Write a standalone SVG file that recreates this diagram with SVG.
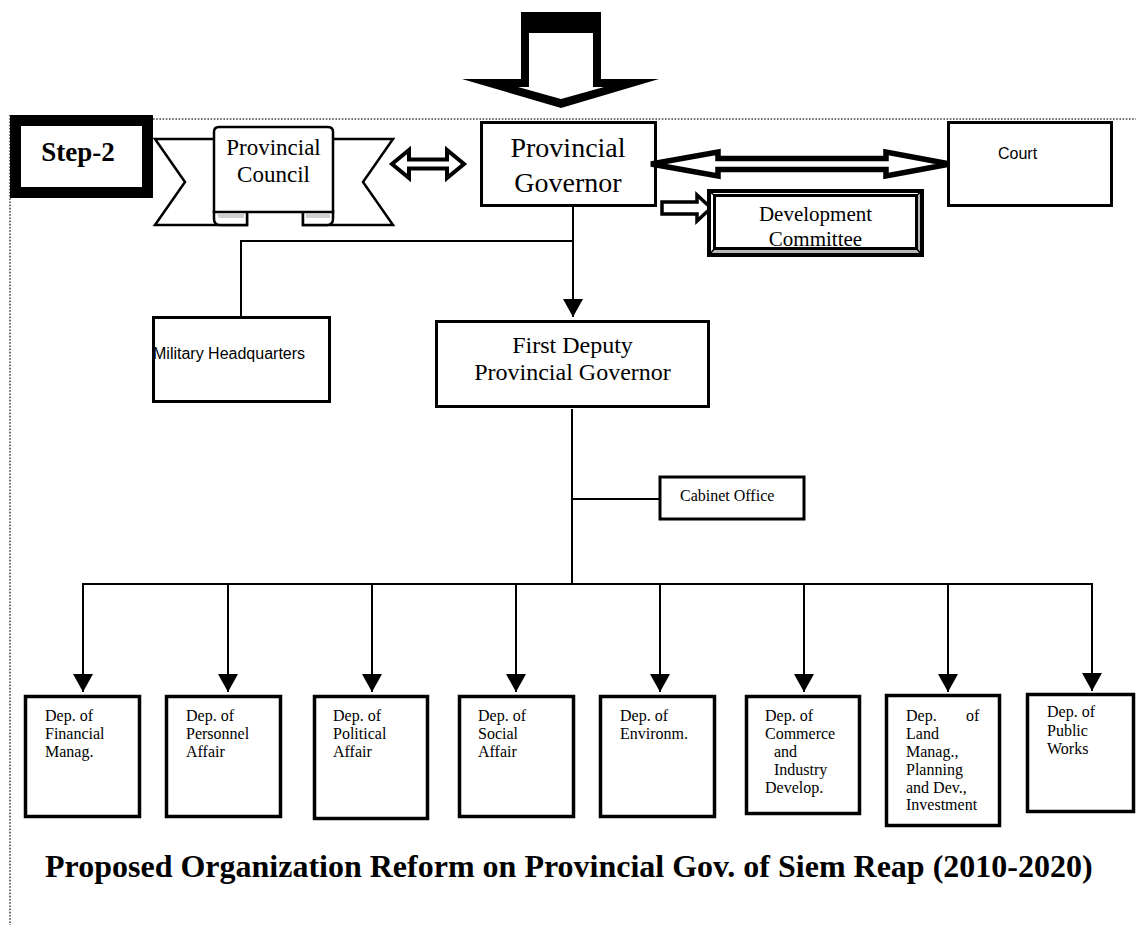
<svg xmlns="http://www.w3.org/2000/svg" width="1136" height="925" viewBox="0 0 1136 925">
<style>
.box{fill:#fff;stroke:#000;stroke-width:3}
.dep{fill:#fff;stroke:#000;stroke-width:3.5}
.ln{fill:none;stroke:#000;stroke-width:2}
.dot{fill:none;stroke:#444;stroke-width:1.6;stroke-dasharray:1.6 1.6}
.blk{fill:#fff;stroke:#000;stroke-linejoin:miter}
.tr{font-family:"Liberation Serif","Times New Roman",serif;fill:#000}
.ts{font-family:"Liberation Sans",Arial,sans-serif;fill:#000}
.d{font-family:"Liberation Serif","Times New Roman",serif;font-size:16px;fill:#000}
</style>
<defs>
<marker id="ah" markerUnits="userSpaceOnUse" markerWidth="18" markerHeight="20" refX="18" refY="10" orient="auto" viewBox="0 0 18 20">
<path d="M0,0 L18,10 L0,20 Z" fill="#000"/>
</marker>
</defs>
<rect width="1136" height="925" fill="#fff"/>

<!-- dotted frame -->
<g id="frame">
<line class="dot" x1="153" y1="119" x2="1136" y2="119"/>
<line class="dot" x1="10" y1="115" x2="10" y2="925"/>
</g>

<!-- top block arrow -->
<g id="top-arrow">
<polygon points="521,12 601,12 601,79 659,79 561,108 462,79 521,79" fill="#000"/>
<polygon points="529,33 593,33 593,87 604,87 561,99 518,87 529,87" fill="#fff"/>
</g>

<!-- connectors -->
<g id="connectors">
<line class="ln" x1="573" y1="207" x2="573" y2="317" marker-end="url(#ah)"/>
<line class="ln" x1="240" y1="241" x2="574" y2="241"/>
<line class="ln" x1="241" y1="241" x2="241" y2="316"/>
<line class="ln" x1="572" y1="409" x2="572" y2="585"/>
<line class="ln" x1="572" y1="499" x2="659" y2="499"/>
<line class="ln" x1="83" y1="584" x2="1093" y2="584"/>
<line class="ln" x1="83" y1="583" x2="83" y2="692" marker-end="url(#ah)"/>
<line class="ln" x1="228" y1="584" x2="228" y2="692" marker-end="url(#ah)"/>
<line class="ln" x1="372" y1="584" x2="372" y2="692" marker-end="url(#ah)"/>
<line class="ln" x1="516" y1="584" x2="516" y2="692" marker-end="url(#ah)"/>
<line class="ln" x1="660" y1="584" x2="660" y2="692" marker-end="url(#ah)"/>
<line class="ln" x1="804" y1="584" x2="804" y2="692" marker-end="url(#ah)"/>
<line class="ln" x1="948" y1="584" x2="948" y2="692" marker-end="url(#ah)"/>
<line class="ln" x1="1092" y1="583" x2="1092" y2="691" marker-end="url(#ah)"/>
</g>

<!-- Step-2 -->
<g id="step2">
<rect x="15.5" y="120.5" width="132" height="72" fill="#fff" stroke="#000" stroke-width="11"/>
<text class="tr" x="78" y="161" font-size="27" font-weight="bold" text-anchor="middle">Step-2</text>
</g>

<!-- Provincial Council ribbon -->
<g id="provincial-council">
<path d="M216,139 L155,139 L185,182 L155,225 L247,225 L247,212 L216,212 Z" fill="#fff" stroke="#000" stroke-width="2.5" stroke-linejoin="miter"/>
<path d="M331,139 L393,139 L363,182 L393,225 L303,225 L303,212 L331,212 Z" fill="#fff" stroke="#000" stroke-width="2.5" stroke-linejoin="miter"/>
<path d="M214,210 L214,219 Q214,225 220,225 L247,225 L247,212" fill="#fff" stroke="#000" stroke-width="2.5"/>
<path d="M333,210 L333,219 Q333,225 327,225 L303,225 L303,212" fill="#fff" stroke="#000" stroke-width="2.5"/>
<path d="M217,214 L244,214 L244,218 L219,218 Z" fill="#d0d0d0"/>
<path d="M306,214 L330,214 L330,218 L306,218 Z" fill="#d0d0d0"/>
<path d="M214,212 L214,132 Q214,127 219,127 L328,127 Q333,127 333,132 L333,212 Z" fill="#fff" stroke="#000" stroke-width="2.5"/>
<text class="tr" font-size="23" text-anchor="middle"><tspan x="273.5" y="155">Provincial</tspan><tspan x="273.5" y="182">Council</tspan></text>
</g>

<!-- council <-> governor arrow -->
<g id="arrow-council-governor">
<polygon class="blk" stroke-width="4" points="392,164 409,150 409,159.5 447,159.5 447,150 464,164 447,178 447,168.5 409,168.5 409,178"/>
</g>

<!-- Provincial Governor -->
<g id="provincial-governor">
<rect class="box" x="481.5" y="122.5" width="174" height="83"/>
<text class="tr" font-size="28" text-anchor="middle"><tspan x="568" y="157">Provincial</tspan><tspan x="568" y="192">Governor</tspan></text>
</g>

<!-- governor <-> court arrow -->
<g id="arrow-governor-court">
<polygon class="blk" stroke-width="5.5" points="651,164 718,152 718,158.5 886,158.5 886,152 950,164 886,176 886,169.5 718,169.5 718,176"/>
</g>

<!-- Court -->
<g id="court">
<rect class="box" x="948.5" y="122.5" width="163" height="83"/>
<text class="ts" x="998" y="159" font-size="16">Court</text>
</g>

<!-- governor -> development arrow -->
<g id="arrow-development">
<polygon class="blk" stroke-width="3.5" points="662,202 697,202 697,195 711,208 697,221 697,214 662,214"/>
</g>

<!-- Development Committee (bevel) -->
<g id="development-committee">
<rect x="707" y="189" width="217" height="68" fill="#fff"/>
<text class="tr" font-size="21" text-anchor="middle"><tspan x="815.5" y="221">Development</tspan><tspan x="815.5" y="246">Committee</tspan></text>
<polygon points="917,195 924,189 924,257 917,249" fill="#b8b8b8"/>
<polygon points="714,249 917,249 924,257 707,257" fill="#b8b8b8"/>
<rect x="709" y="191" width="213" height="64" fill="none" stroke="#000" stroke-width="4"/>
<rect x="714.5" y="195.5" width="202" height="53" fill="none" stroke="#000" stroke-width="3"/>
<g stroke="#000" stroke-width="1.5">
<line x1="709" y1="191" x2="715" y2="196"/>
<line x1="922" y1="191" x2="916" y2="196"/>
<line x1="709" y1="255" x2="715" y2="248"/>
<line x1="922" y1="255" x2="916" y2="248"/>
</g>
</g>

<!-- Military Headquarters -->
<g id="military-hq">
<rect class="box" x="153.5" y="317.5" width="176" height="84"/>
<text class="ts" x="153" y="359" font-size="16">Military Headquarters</text>
</g>

<!-- First Deputy Provincial Governor -->
<g id="first-deputy">
<rect class="box" x="436.5" y="321.5" width="272" height="85"/>
<text class="tr" font-size="24" text-anchor="middle"><tspan x="572.5" y="353">First Deputy</tspan><tspan x="572.5" y="380">Provincial Governor</tspan></text>
</g>

<!-- Cabinet Office -->
<g id="cabinet-office">
<rect class="box" x="660" y="477" width="144" height="42"/>
<text class="tr" x="680" y="501" font-size="16">Cabinet Office</text>
</g>

<!-- Departments -->
<g id="dep-financial">
<rect class="dep" x="25.5" y="696.5" width="114" height="120"/>
<text class="d"><tspan x="45" y="721">Dep. of</tspan><tspan x="45" y="739">Financial</tspan><tspan x="45" y="757">Manag.</tspan></text>
</g>
<g id="dep-personnel">
<rect class="dep" x="166.5" y="696.5" width="114" height="120"/>
<text class="d"><tspan x="186" y="721">Dep. of</tspan><tspan x="186" y="739">Personnel</tspan><tspan x="186" y="757">Affair</tspan></text>
</g>
<g id="dep-political">
<rect class="dep" x="314.5" y="696.5" width="113" height="122"/>
<text class="d"><tspan x="333" y="721">Dep. of</tspan><tspan x="333" y="739">Political</tspan><tspan x="333" y="757">Affair</tspan></text>
</g>
<g id="dep-social">
<rect class="dep" x="459.5" y="696.5" width="114" height="120"/>
<text class="d"><tspan x="478" y="721">Dep. of</tspan><tspan x="478" y="739">Social</tspan><tspan x="478" y="757">Affair</tspan></text>
</g>
<g id="dep-environment">
<rect class="dep" x="600.5" y="696.5" width="114" height="120"/>
<text class="d"><tspan x="620" y="721">Dep. of</tspan><tspan x="620" y="739">Environm.</tspan></text>
</g>
<g id="dep-commerce">
<rect class="dep" x="746.5" y="696.5" width="113" height="117"/>
<text class="d"><tspan x="765" y="721">Dep. of</tspan><tspan x="765" y="739">Commerce</tspan><tspan x="774" y="757">and</tspan><tspan x="774" y="775">Industry</tspan><tspan x="765" y="793">Develop.</tspan></text>
</g>
<g id="dep-land">
<rect class="dep" x="886.5" y="695.5" width="113" height="130"/>
<text class="d"><tspan x="906" y="721">Dep.</tspan><tspan x="966" y="721">of</tspan><tspan x="906" y="739">Land</tspan><tspan x="906" y="757">Manag.,</tspan><tspan x="906" y="775">Planning</tspan><tspan x="906" y="793">and Dev.,</tspan><tspan x="906" y="810">Investment</tspan></text>
</g>
<g id="dep-public-works">
<rect class="dep" x="1027.5" y="694.5" width="106" height="117"/>
<text class="d"><tspan x="1047" y="717">Dep. of</tspan><tspan x="1047" y="736">Public</tspan><tspan x="1047" y="754">Works</tspan></text>
</g>

<!-- Title -->
<text id="title" class="tr" x="45" y="877" font-size="32" font-weight="bold">Proposed Organization Reform on Provincial Gov. of Siem Reap (2010-2020)</text>
</svg>
